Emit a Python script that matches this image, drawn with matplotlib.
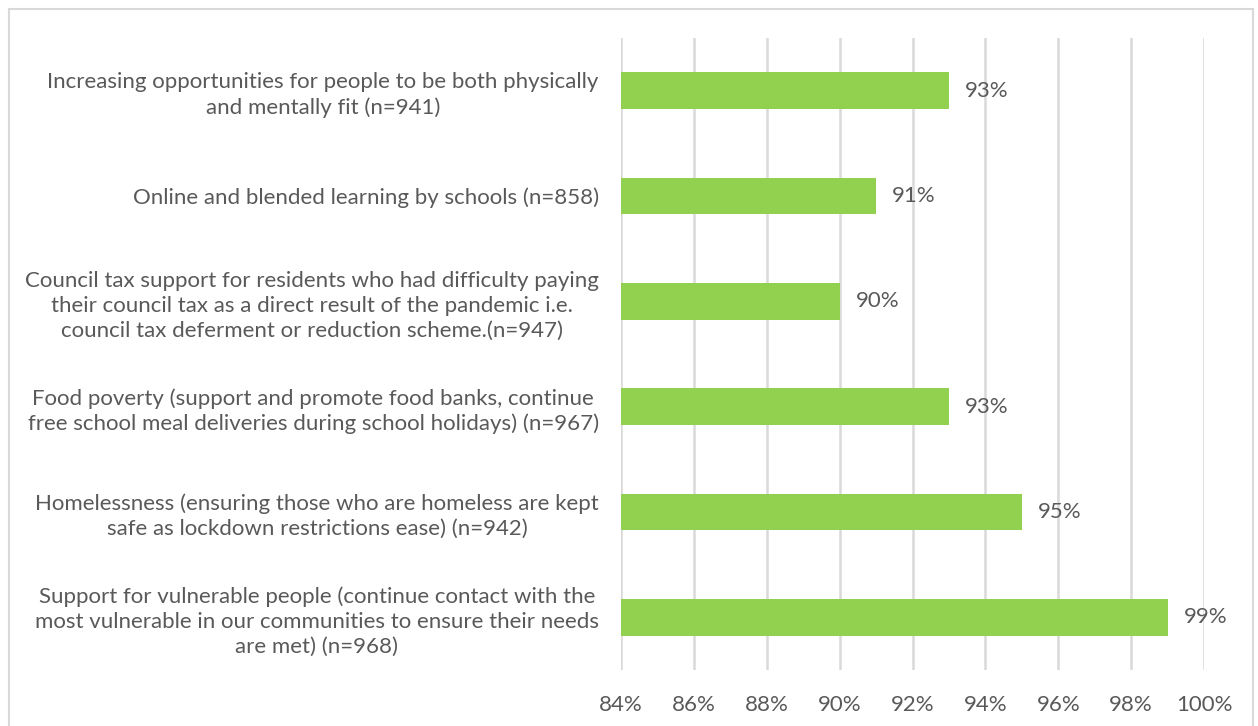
import numpy as np
import matplotlib.pyplot as plt
from matplotlib.patches import Rectangle

plt.rcParams['font.family'] = ['Lato', 'DejaVu Sans']

## the data
categories = [
    "Increasing opportunities for people to be both physically\nand mentally fit (n=941)",
    "Online and blended learning by schools (n=858)",
    "Council tax support for residents who had difficulty paying\ntheir council tax as a direct result of the pandemic i.e.\ncouncil tax deferment or reduction scheme.(n=947)",
    "Food poverty (support and promote food banks, continue\nfree school meal deliveries during school holidays) (n=967)",
    "Homelessness (ensuring those who are homeless are kept\nsafe as lockdown restrictions ease) (n=942)",
    "Support for vulnerable people (continue contact with the\nmost vulnerable in our communities to ensure their needs\nare met) (n=968)",
]
values = [93, 91, 90, 93, 95, 99]
xticks = np.arange(84, 101, 2)

text_col = '#595959'
bar_col = '#92D050'
grid_col = '#D9D9D9'
fs = 16

fig = plt.figure(figsize=(12.58, 7.26), dpi=100)
ax = fig.add_axes([621/1258, 1-670/726, (1204-621)/1258, (670-38)/726])

# outer chart border
fig.patches.append(Rectangle((9/1258, -0.01), (1253-9)/1258, 1-9/726+0.01,
                             transform=fig.transFigure, fill=False,
                             edgecolor='#D9D9D9', linewidth=1.5))

ind = np.arange(len(categories))
ax.barh(ind, values, height=0.35, left=0, color=bar_col, zorder=3)

for i, v in enumerate(values):
    ax.text(v + 0.44, i, f"{v}%", va='center', ha='left',
            fontsize=fs, color=text_col)

ax.set_xlim(84, 100)
ax.set_ylim(len(categories) - 0.5, -0.5)
ax.set_xticks(xticks)
ax.set_xticklabels([f"{t}%" for t in xticks], fontsize=fs, color=text_col)
ax.set_yticks(ind)
ax.set_yticklabels(categories, fontsize=fs, color=text_col,
                   ha='right', multialignment='center', linespacing=1.3)

ax.grid(axis='x', color=grid_col, linewidth=1.8, zorder=0)
for s in ax.spines.values():
    s.set_visible(False)
ax.tick_params(axis='both', length=0)
ax.tick_params(axis='y', pad=16)
ax.tick_params(axis='x', pad=18)

fig.savefig("out.png", dpi=100)
